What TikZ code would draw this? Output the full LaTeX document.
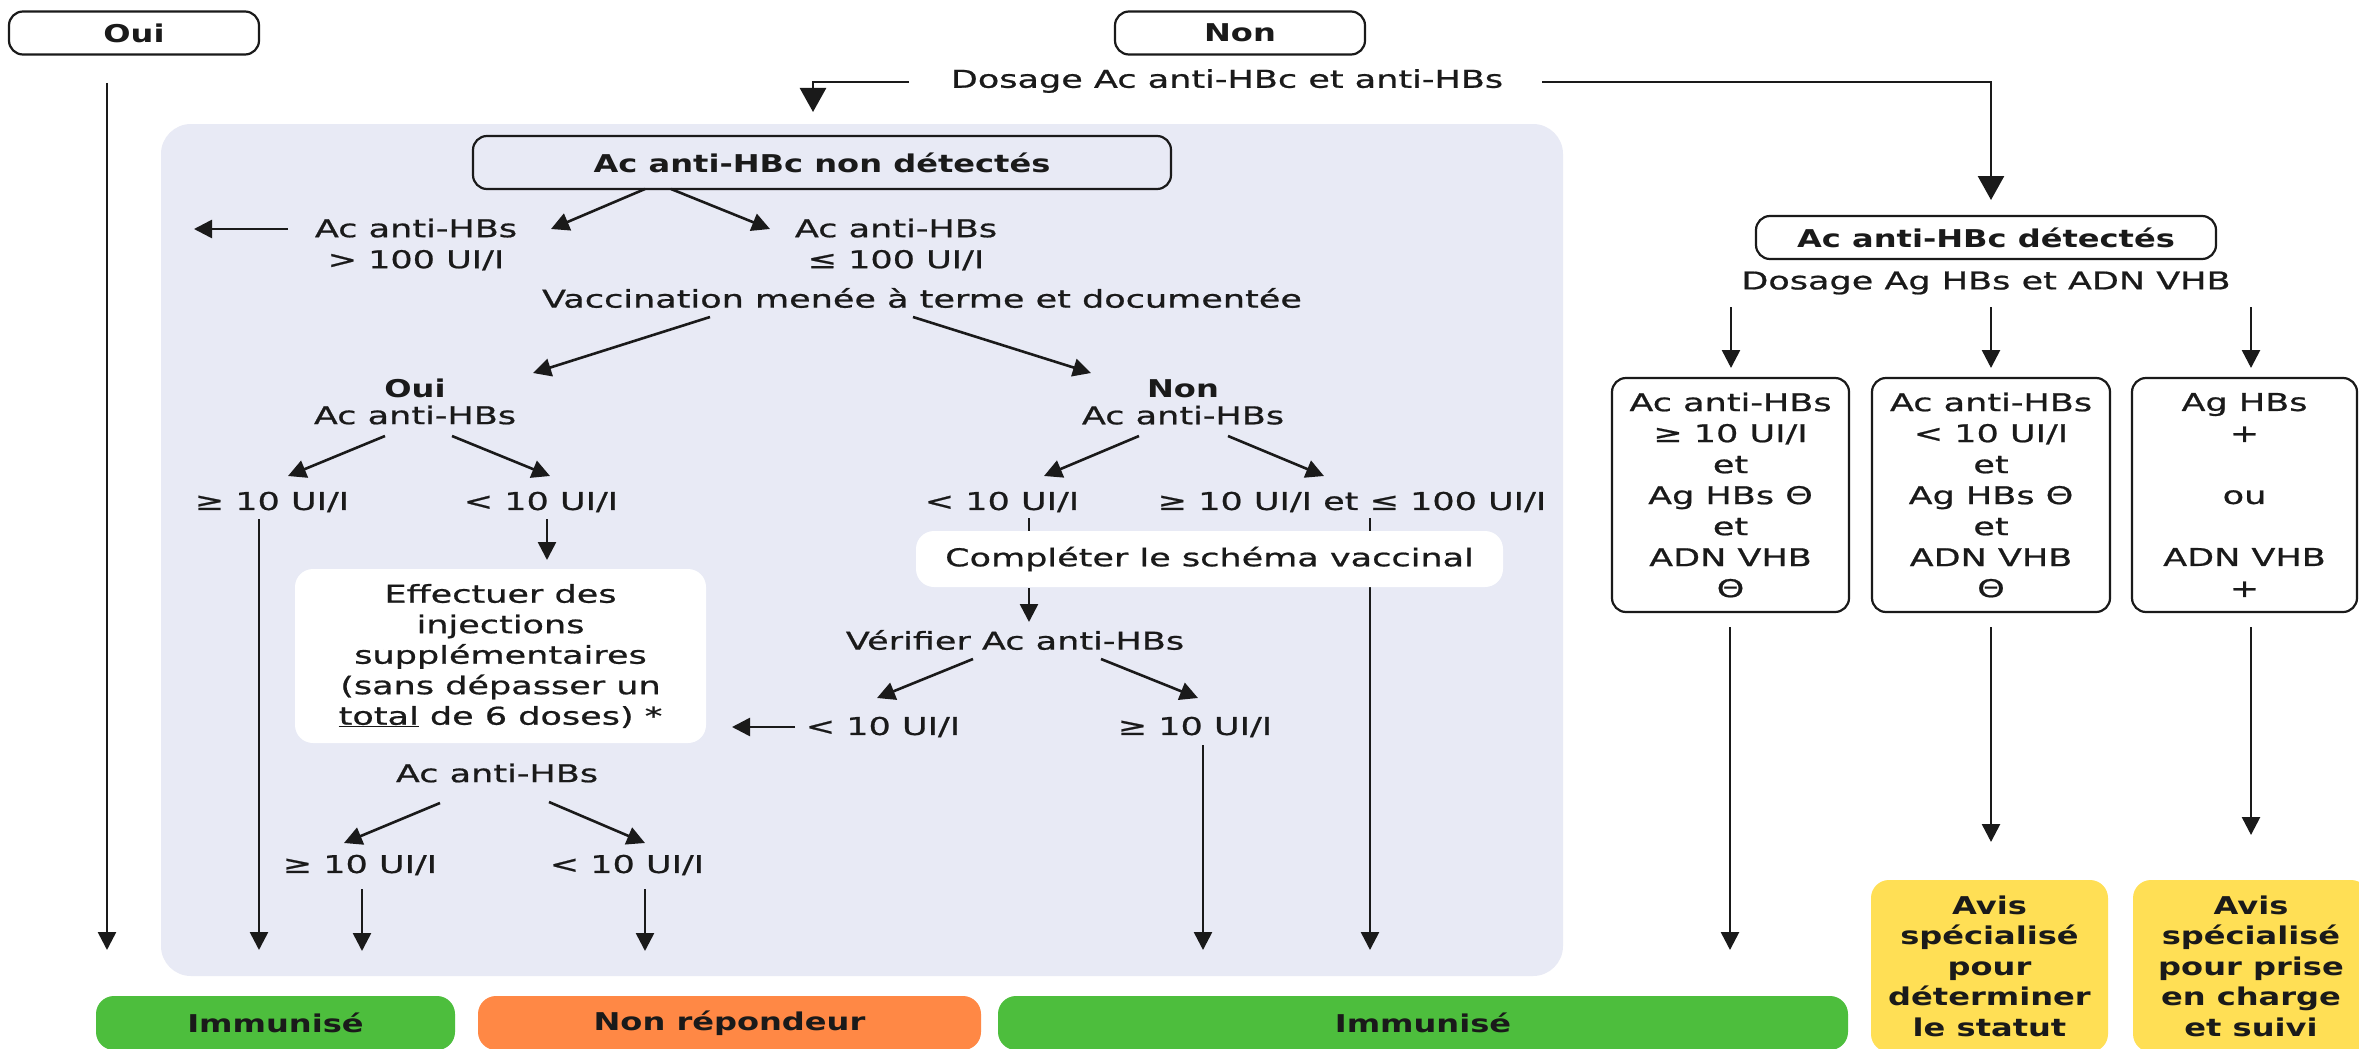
\documentclass[tikz,border=0pt]{standalone}
\usepackage{fontspec}
\setmainfont{DejaVu Sans}[FakeStretch=1.43, FakeBold=0.8]
\newfontfamily\semib{DejaVu Sans Bold}[FakeStretch=1.31]
\usetikzlibrary{arrows.meta}
\definecolor{ink}{HTML}{1A1A1A}
\definecolor{panelc}{HTML}{E8EAF5}
\definecolor{greenc}{HTML}{4DBE3D}
\definecolor{orangec}{HTML}{FF8845}
\definecolor{yellowc}{HTML}{FFDF55}
\begin{document}
\begin{tikzpicture}[x=1pt,y=-1pt,
  t/.style={font=\fontsize{24.5}{31}\selectfont, inner sep=0pt, align=center, text=ink},
  tb/.style={t, font=\fontsize{24.5}{31}\selectfont\semib},
  frame/.style={draw=ink, line width=2.2pt, rounded corners=14pt},
  endbox/.style={tb, rounded corners=18pt, minimum height=54pt},
  arr/.style={draw=ink, line width=2.6pt, -{Triangle[length=18pt,width=18pt]}},
  bigarr/.style={draw=ink, line width=2.6pt, -{Triangle[length=24pt,width=26pt]}},
  ln/.style={draw=ink, line width=2.6pt},
]
\useasboundingbox (0,0) rectangle (2359,1049);
\clip (0,0) rectangle (2359,1049);
\fill[white] (0,0) rectangle (2359,1049);
\fill[panelc, rounded corners=30pt] (161,124) rectangle (1563,976);

% top
\node[tb, frame, minimum width=250pt, minimum height=43pt] (oui) at (134,33) {Oui};
\node[tb, frame, minimum width=250pt, minimum height=43pt] (non) at (1240,33) {Non};
\node[t] (dos1) at (1227,81) {Dosage Ac anti-HBc et anti-HBs};

% panel content
\node[tb, frame, minimum width=698pt, minimum height=53pt] (ndet) at (822,162.5) {Ac anti-HBc non détectés};
\node[t] (hbs1) at (416,244.5) {Ac anti-HBs\\> 100 UI/I};
\node[t] (hbs2) at (896,244.5) {Ac anti-HBs\\≤ 100 UI/I};
\coordinate (lft1) at (194,229);
\node[t] (vacc) at (922,298) {Vaccination menée à terme et documentée};
\node[t, font=\fontsize{24.5}{27}\selectfont] (ouiAc) at (415,401.5) {{\semib Oui}\\Ac anti-HBs};
\node[t, font=\fontsize{24.5}{27}\selectfont] (nonAc) at (1183,402) {{\semib Non}\\Ac anti-HBs};
\node[t] (ge10a) at (272,502) {≥ 10 UI/I};
\node[t] (lt10a) at (541,502) {< 10 UI/I};
\node[t] (lt10b) at (1002,502) {< 10 UI/I};
\node[t] (rng) at (1352,502) {≥ 10 UI/I et ≤ 100 UI/I};
\node[t, fill=white, rounded corners=18pt, minimum width=411pt, minimum height=174pt,
      font=\fontsize{24.5}{30.5}\selectfont] (eff) at (500.5,656)
  {Effectuer des\\injections\\supplémentaires\\(sans dépasser un\\\underline{total} de 6 doses) *};
\node[t] (verif) at (1015,640) {Vérifier Ac anti-HBs};
\node[t] (lt10c) at (883,727) {< 10 UI/I};
\node[t] (ge10c) at (1195,727) {≥ 10 UI/I};
\node[t] (ac3) at (497,773) {Ac anti-HBs};
\node[t] (ge10d) at (360,865) {≥ 10 UI/I};
\node[t] (lt10d) at (627,865) {< 10 UI/I};

% bottom boxes
\node[endbox, fill=greenc, minimum width=359pt] (imm1) at (275.5,1023) {Immunisé};
\node[endbox, fill=orangec, minimum width=503pt] (nonrep) at (729.5,1023) {Non répondeur};
\node[endbox, fill=greenc, minimum width=850pt] (imm2) at (1423,1023) {Immunisé};

% line behind the white box
\draw[arr] ([shift={(18,16)}]rng.center) -- ([shift={(-53,-73)}]imm2.center);
\node[t, fill=white, rounded corners=18pt, minimum width=587pt, minimum height=56pt] (comp) at (1209.5,559) {Compléter le schéma vaccinal};

% right part
\node[tb, frame, minimum width=460pt, minimum height=43pt] (det) at (1986,237.5) {Ac anti-HBc détectés};
\node[t] (dos2) at (1986,283) {Dosage Ag HBs et ADN VHB};
\node[t, frame, minimum width=237pt, minimum height=234pt] (b1) at (1730.5,495)
  {Ac anti-HBs\\≥ 10 UI/I\\et\\Ag HBs Θ\\et\\ADN VHB\\Θ};
\node[t, frame, minimum width=238pt, minimum height=234pt] (b2) at (1991,495)
  {Ac anti-HBs\\< 10 UI/I\\et\\Ag HBs Θ\\et\\ADN VHB\\Θ};
\node[t, frame, minimum width=225pt, minimum height=234pt] (b3) at (2244.5,495)
  {Ag HBs\\+\\\mbox{}\\ou\\\mbox{}\\ADN VHB\\+};
\node[tb, fill=yellowc, rounded corners=18pt, minimum width=237pt, minimum height=172pt,
      font=\fontsize{24.5}{30.5}\selectfont\semib] (y1) at (1989.5,966)
  {Avis\\spécialisé\\pour\\déterminer\\le statut};
\node[tb, fill=yellowc, rounded corners=18pt, minimum width=236pt, minimum height=172pt,
      font=\fontsize{24.5}{30.5}\selectfont\semib] (y2) at (2251,966)
  {Avis\\spécialisé\\pour prise\\en charge\\et suivi};

% connectors
\draw[arr] ([shift={(-27,50)}]oui.center) -- ([shift={(-168.5,-73)}]imm1.center);
\draw[bigarr] ([shift={(-318,1)}]dos1.center) -| ([shift={(-9,-50.5)}]ndet.center);
\draw[bigarr] ([shift={(315,1)}]dos1.center) -| ([shift={(5,-37.5)}]det.center);
\draw[arr] ([shift={(-177,26.5)}]ndet.center) -- ([shift={(135,-15.5)}]hbs1.center);
\draw[arr] ([shift={(-151,26.5)}]ndet.center) -- ([shift={(-126,-15.5)}]hbs2.center);
\draw[arr] ([shift={(-128,-15.5)}]hbs1.center) -- (lft1);
\draw[arr] ([shift={(-212,19)}]vacc.center) -- ([shift={(118,-28.5)}]ouiAc.center);
\draw[arr] ([shift={(-9,19)}]vacc.center) -- ([shift={(-92,-29)}]nonAc.center);
\draw[arr] ([shift={(-30,34.5)}]ouiAc.center) -- ([shift={(16,-26)}]ge10a.center);
\draw[arr] ([shift={(37,34.5)}]ouiAc.center) -- ([shift={(9,-26)}]lt10a.center);
\draw[arr] ([shift={(-44,34)}]nonAc.center) -- ([shift={(42,-26)}]lt10b.center);
\draw[arr] ([shift={(45,34)}]nonAc.center) -- ([shift={(-28,-26)}]rng.center);
\draw[arr] ([shift={(-13,17)}]ge10a.center) -- ([shift={(-16.5,-73)}]imm1.center);
\draw[arr] ([shift={(6,17)}]lt10a.center) -- ([shift={(46.5,-96)}]eff.center);
\draw[ln] ([shift={(27,16)}]lt10b.center) -- ([shift={(-180.5,-28)}]comp.center);
\draw[arr] ([shift={(-180.5,29)}]comp.center) -- ([shift={(14,-18)}]verif.center);
\draw[arr] ([shift={(-42,19)}]verif.center) -- ([shift={(-6,-29)}]lt10c.center);
\draw[arr] ([shift={(86,19)}]verif.center) -- ([shift={(3,-29)}]ge10c.center);
\draw[arr] ([shift={(-88,0)}]lt10c.center) -- ([shift={(231.5,71)}]eff.center);
\draw[arr] ([shift={(8,18)}]ge10c.center) -- ([shift={(-220,-73)}]imm2.center);
\draw[arr] ([shift={(-57,30)}]ac3.center) -- ([shift={(-16,-22)}]ge10d.center);
\draw[arr] ([shift={(52,29)}]ac3.center) -- ([shift={(18,-22)}]lt10d.center);
\draw[arr] ([shift={(2,24)}]ge10d.center) -- ([shift={(86.5,-72)}]imm1.center);
\draw[arr] ([shift={(18,24)}]lt10d.center) -- ([shift={(-84.5,-72)}]nonrep.center);
\draw[arr] ([shift={(-255,24)}]dos2.center) -- ([shift={(0.5,-127)}]b1.center);
\draw[arr] ([shift={(5,24)}]dos2.center) -- ([shift={(0,-127)}]b2.center);
\draw[arr] ([shift={(265,24)}]dos2.center) -- ([shift={(6.5,-127)}]b3.center);
\draw[arr] ([shift={(-0.5,132)}]b1.center) -- ([shift={(307,-73)}]imm2.center);
\draw[arr] ([shift={(0,132)}]b2.center) -- ([shift={(1.5,-124)}]y1.center);
\draw[arr] ([shift={(6.5,132)}]b3.center) -- ([shift={(0,-131)}]y2.center);
\end{tikzpicture}
\end{document}
